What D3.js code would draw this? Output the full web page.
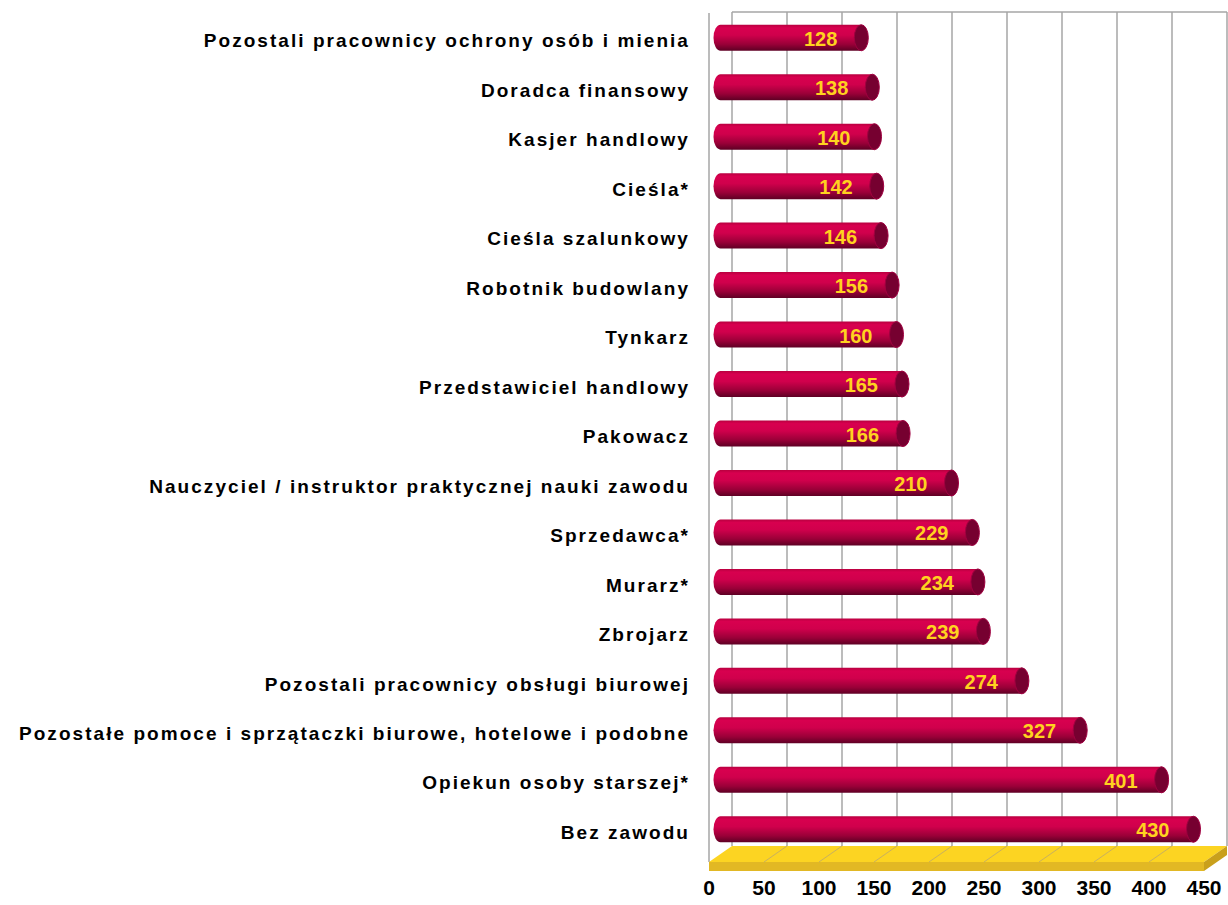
<!DOCTYPE html>
<html>
<head>
<meta charset="utf-8">
<script src="https://cdn.jsdelivr.net/npm/d3@7"></script>
<style>
  body { margin: 0; background: #fff; }
  text { font-family: Arial, "Liberation Sans", sans-serif; font-weight: bold; }
</style>
</head>
<body>
<div id="wykres"></div>
<script>
// dane wykresu (od góry do dołu)
const zawody = [
  "Pozostali pracownicy ochrony osób i mienia",
  "Doradca finansowy",
  "Kasjer handlowy",
  "Cieśla*",
  "Cieśla szalunkowy",
  "Robotnik budowlany",
  "Tynkarz",
  "Przedstawiciel handlowy",
  "Pakowacz",
  "Nauczyciel / instruktor praktycznej nauki zawodu",
  "Sprzedawca*",
  "Murarz*",
  "Zbrojarz",
  "Pozostali pracownicy obsługi biurowej",
  "Pozostałe pomoce i sprzątaczki biurowe, hotelowe i podobne",
  "Opiekun osoby starszej*",
  "Bez zawodu"
];
const liczby = [128, 138, 140, 142, 146, 156, 160, 165, 166, 210, 229, 234, 239, 274, 327, 401, 430];
const podzialka = [0, 50, 100, 150, 200, 250, 300, 350, 400, 450];

const width = 1228, height = 905;
const glebX = 23, glebY = 16;          // przesunięcie ściany tylnej (3D)
const gora = 12, podloga = 846;

const x = d3.scaleLinear().domain([0, 450]).range([709, 1204]);
const y = d3.scaleBand().domain(zawody).range([13, 854]);

const svg = d3.select("#wykres").append("svg")
  .attr("width", width).attr("height", height)
  .attr("viewBox", [0, 0, width, height]);

const defs = svg.append("defs");
const grad = defs.append("linearGradient").attr("id", "walec")
  .attr("x1", 0).attr("y1", 0).attr("x2", 0).attr("y2", 1);
[["0%", "#b8003f"], ["12%", "#d8004f"], ["40%", "#d0004c"], ["75%", "#9a0038"], ["100%", "#5e0024"]]
  .forEach(([o, c]) => grad.append("stop").attr("offset", o).attr("stop-color", c));

// ściana tylna i lewa
svg.append("rect").attr("x", x(0) + glebX).attr("y", gora)
  .attr("width", x(450) - x(0)).attr("height", podloga - gora).attr("fill", "#fff");

svg.append("g").selectAll("line").data(podzialka).join("line")
  .attr("x1", d => x(d) + glebX).attr("x2", d => x(d) + glebX)
  .attr("y1", gora).attr("y2", podloga)
  .attr("stroke", "#a6a6a6").attr("stroke-width", 1.5);

svg.append("line").attr("x1", x(0) + glebX).attr("x2", x(450) + glebX)
  .attr("y1", gora).attr("y2", gora).attr("stroke", "#a6a6a6").attr("stroke-width", 1.5);

svg.append("line").attr("x1", x(0)).attr("x2", x(0))
  .attr("y1", gora + 1).attr("y2", podloga + glebY)
  .attr("stroke", "#a6a6a6").attr("stroke-width", 1.5);

// podłoga
const pf = podloga + glebY;
svg.append("polygon")
  .attr("points", [[x(0) + glebX, podloga], [x(450) + glebX, podloga], [x(450), pf], [x(0), pf]].join(" "))
  .attr("fill", "#fcd422");
svg.append("polygon")
  .attr("points", [[x(0), pf], [x(450), pf], [x(450), pf + 9], [x(0), pf + 9]].join(" "))
  .attr("fill", "#e2b824");
svg.append("polygon")
  .attr("points", [[x(450), pf], [x(450) + glebX, podloga], [x(450) + glebX, podloga + 9], [x(450), pf + 9]].join(" "))
  .attr("fill", "#c9a01c");
svg.append("g").selectAll("line").data(podzialka.slice(1, -1)).join("line")
  .attr("x1", d => x(d) + glebX).attr("y1", podloga)
  .attr("x2", d => x(d)).attr("y2", pf)
  .attr("stroke", "#c8b060").attr("stroke-width", 1);

// walce
const h = 26, r = 7;
const srodek = glebX / 2;
const bary = svg.append("g").selectAll("g").data(zawody).join("g")
  .attr("transform", (d, i) => `translate(0,${y(d) + y.bandwidth() / 2})`);

bary.append("path")
  .attr("d", (d, i) => {
    const x0 = x(0) + srodek, x1 = x(liczby[i]) + srodek;
    return `M${x1},${-h / 2} L${x0},${-h / 2} A${r},${h / 2} 0 0 0 ${x0},${h / 2} L${x1},${h / 2} Z`;
  })
  .attr("fill", "url(#walec)");

bary.append("ellipse")
  .attr("cx", (d, i) => x(liczby[i]) + srodek)
  .attr("cy", 0).attr("rx", r).attr("ry", h / 2)
  .attr("fill", "#760030").attr("stroke", "#a00040").attr("stroke-width", 1);

bary.append("text")
  .attr("x", (d, i) => x(liczby[i]) + srodek - 24)
  .attr("y", 1).attr("dy", "0.35em")
  .attr("text-anchor", "end")
  .attr("font-size", 20).attr("fill", "#ffd21f")
  .text((d, i) => liczby[i]);

// etykiety kategorii
svg.append("g").selectAll("text").data(zawody).join("text")
  .attr("x", 690)
  .attr("y", d => y(d) + y.bandwidth() / 2 + 3)
  .attr("dy", "0.35em")
  .attr("text-anchor", "end")
  .attr("font-size", 19).attr("letter-spacing", 2.05).attr("fill", "#000")
  .text(d => d);

// oś X
svg.append("g").selectAll("text").data(podzialka).join("text")
  .attr("x", d => x(d))
  .attr("y", 888).attr("dy", "0.35em")
  .attr("text-anchor", "middle")
  .attr("font-size", 21).attr("fill", "#000")
  .text(d => d);
</script>
</body>
</html>
